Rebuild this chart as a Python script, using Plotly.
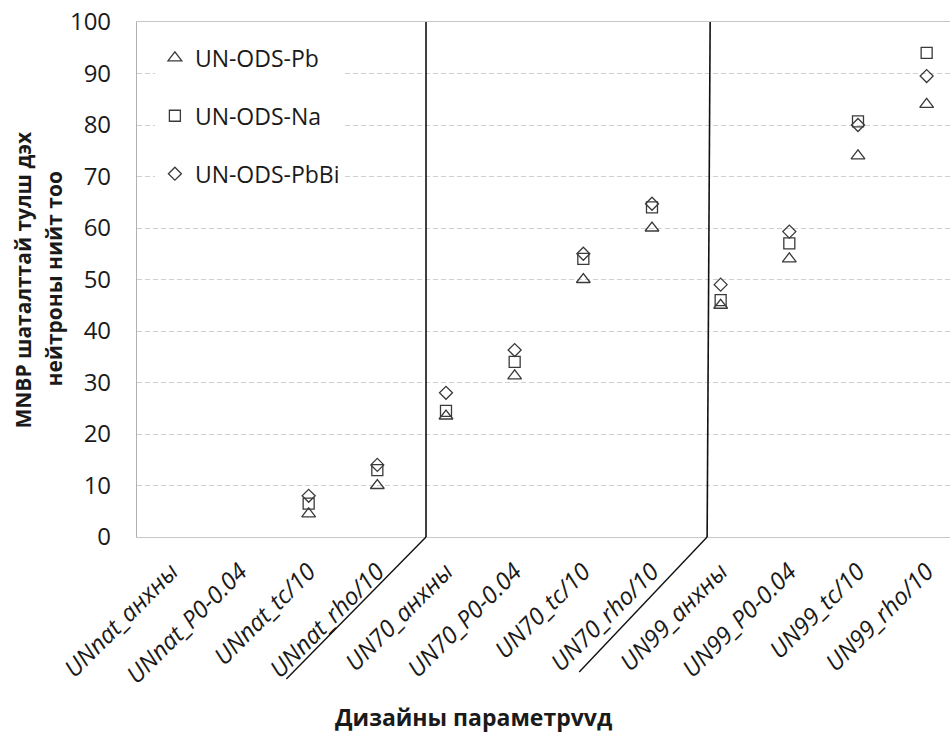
import plotly.graph_objects as go

# Design-parameter cases on the x axis
categories = [
    "UNnat_анхны", "UNnat_P0-0.04", "UNnat_tc/10", "UNnat_rho/10",
    "UN70_анхны", "UN70_P0-0.04", "UN70_tc/10", "UN70_rho/10",
    "UN99_анхны", "UN99_P0-0.04", "UN99_tc/10", "UN99_rho/10",
]

# Total number of neutrons in the MNBP fuel per coolant (None = no result)
pb_values = [None, None, 4.5, 10.0, 23.5, 31.3, 50.0, 60.0, 45.0, 54.0, 74.0, 84.0]
na_values = [None, None, 6.5, 13.0, 24.5, 34.0, 54.0, 64.0, 46.0, 57.0, 80.7, 94.0]
pbbi_values = [None, None, 8.0, 14.0, 28.0, 36.3, 55.0, 64.7, 49.0, 59.3, 80.0, 89.5]

series_names = ["UN-ODS-Pb", "UN-ODS-Na", "UN-ODS-PbBi"]
y_ticks = [0, 10, 20, 30, 40, 50, 60, 70, 80, 90, 100]

FONT = "Open Sans"
INK = "#1a1a1a"
MARK = "#3a3a3a"

x_idx = list(range(len(categories)))

fig = go.Figure()
styles = [
    ("triangle-up-open", 12, pb_values),
    ("square-open", 11, na_values),
    ("diamond-open", 10, pbbi_values),
]
for name, (symbol, size, vals) in zip(series_names, styles):
    fig.add_trace(go.Scatter(
        x=x_idx, y=vals, mode="markers", name=name, legendgroup=name,
        marker=dict(symbol=symbol, size=size, color=MARK,
                    line=dict(color=MARK, width=1.3)),
        cliponaxis=False,
    ))

# Separator lines between fuel groups, running down through the tick labels
sep_color = "#111111"
shapes = [
    dict(type="line", xref="x", yref="paper", x0=3.709, y0=1.0, x1=3.709, y1=0.0,
         line=dict(color=sep_color, width=1.6)),
    dict(type="line", xref="x", yref="paper", x0=3.709, y0=0.0, x1=1.675, y1=-0.2757,
         line=dict(color=sep_color, width=1.4)),
    dict(type="line", xref="x", yref="paper", x0=7.847, y0=1.0, x1=7.803, y1=0.0,
         line=dict(color=sep_color, width=1.6)),
    dict(type="line", xref="x", yref="paper", x0=7.803, y0=0.0, x1=5.940, y1=-0.262,
         line=dict(color=sep_color, width=1.4)),
]

annotations = [
    dict(text="<b>Дизайны параметрvvд</b>", xref="paper", yref="paper",
         x=0.4145, y=-0.3495, xanchor="center", yanchor="middle", showarrow=False,
         font=dict(family=FONT, size=23, color=INK)),
    dict(text="<b>MNBP шаталттай тулш дэх</b>", xref="paper", yref="paper",
         x=-0.1414, y=0.5, xanchor="center", yanchor="middle", textangle=-90,
         showarrow=False, font=dict(family=FONT, size=21, color=INK)),
    dict(text="<b>нейтроны нийт тоо</b>", xref="paper", yref="paper",
         x=-0.1033, y=0.5, xanchor="center", yanchor="middle", textangle=-90,
         showarrow=False, font=dict(family=FONT, size=21, color=INK)),
]

fig.update_layout(
    width=950, height=734,
    margin=dict(l=137, r=0, t=22, b=197),
    paper_bgcolor="white", plot_bgcolor="white",
    font=dict(family=FONT, size=22, color=INK),
    showlegend=True,
    legend=dict(x=0.022, y=0.972, xanchor="left", yanchor="top",
                bgcolor="white", borderwidth=0, tracegroupgap=25,
                font=dict(family=FONT, size=23, color=INK)),
    shapes=shapes,
    annotations=annotations,
    xaxis=dict(
        tickmode="array", tickvals=x_idx, ticktext=categories,
        range=[-0.5, 11.34], tickangle=-45,
        tickfont=dict(family=FONT, size=24, color=INK, style="italic"),
        showgrid=False, zeroline=False, ticks="", ticklabelstandoff=10,
        showline=True, linecolor="#c8c8c8", linewidth=1.2, mirror=True,
    ),
    yaxis=dict(
        range=[0, 100], tickmode="array", tickvals=y_ticks,
        showgrid=True, gridcolor="#cfcfcf", griddash="5px,3px", gridwidth=1,
        zeroline=False, ticks="", ticklabelstandoff=20,
        showline=True, linecolor="#b0b0b0", linewidth=1.2,
        tickfont=dict(family=FONT, size=24, color=INK),
    ),
)

fig.write_html("out.html")
